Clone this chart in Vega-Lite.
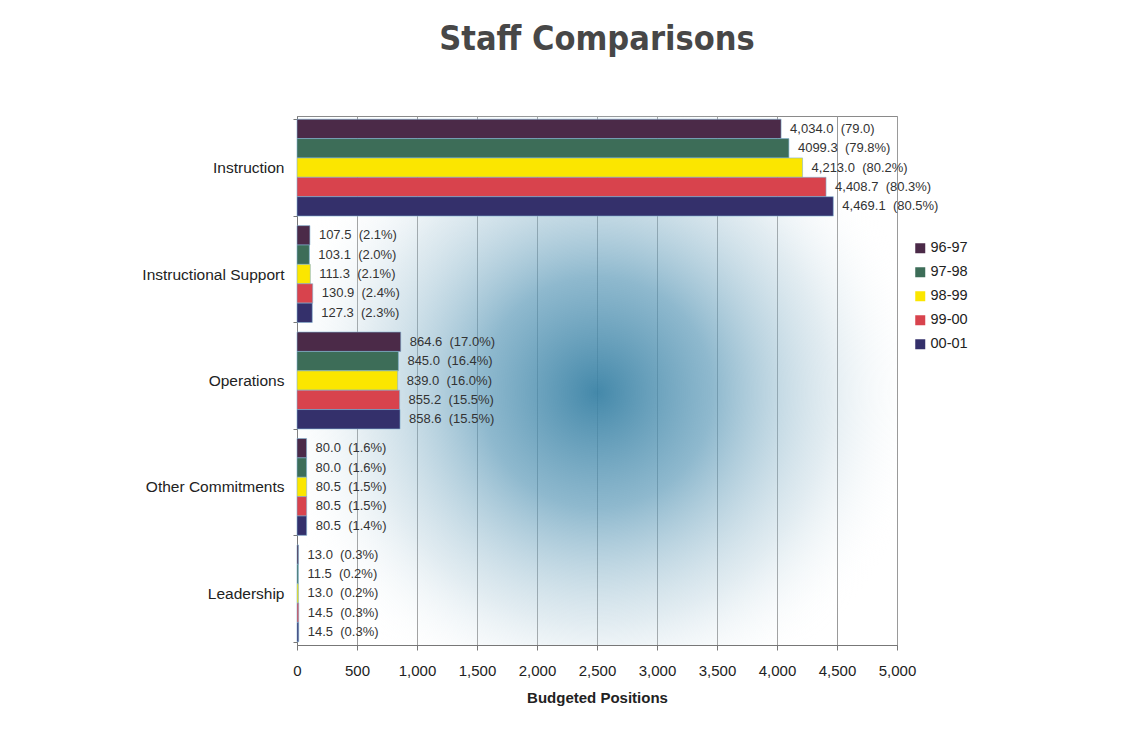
{
  "$schema": "https://vega.github.io/schema/vega-lite/v6.json",
  "width": 600,
  "height": 529,
  "autosize": {"type": "none"},
  "padding": {"left": 297, "top": 116, "right": 231, "bottom": 89},
  "background": "white",
  "title": {
    "text": "Staff Comparisons",
    "anchor": "middle",
    "frame": "group",
    "offset": 52,
    "fontSize": 34,
    "fontWeight": "bold",
    "font": "DejaVu Sans Condensed, Liberation Sans Narrow, Roboto, sans-serif",
    "color": "#474747"
  },
  "config": {
    "view": {"stroke": "#8a8a8a", "strokeWidth": 1},
    "font": "Liberation Sans, Arial, sans-serif"
  },
  "datasets": {
    "bars": [
      {"cat": "Instruction", "year": "96-97", "value": 4034.0, "label": "4,034.0\u00a0 (79.0)"},
      {"cat": "Instruction", "year": "97-98", "value": 4099.3, "label": "4099.3\u00a0 (79.8%)"},
      {"cat": "Instruction", "year": "98-99", "value": 4213.0, "label": "4,213.0\u00a0 (80.2%)"},
      {"cat": "Instruction", "year": "99-00", "value": 4408.7, "label": "4,408.7\u00a0 (80.3%)"},
      {"cat": "Instruction", "year": "00-01", "value": 4469.1, "label": "4,469.1\u00a0 (80.5%)"},
      {"cat": "Instructional Support", "year": "96-97", "value": 107.5, "label": "107.5\u00a0 (2.1%)"},
      {"cat": "Instructional Support", "year": "97-98", "value": 103.1, "label": "103.1\u00a0 (2.0%)"},
      {"cat": "Instructional Support", "year": "98-99", "value": 111.3, "label": "111.3\u00a0 (2.1%)"},
      {"cat": "Instructional Support", "year": "99-00", "value": 130.9, "label": "130.9\u00a0 (2.4%)"},
      {"cat": "Instructional Support", "year": "00-01", "value": 127.3, "label": "127.3\u00a0 (2.3%)"},
      {"cat": "Operations", "year": "96-97", "value": 864.6, "label": "864.6\u00a0 (17.0%)"},
      {"cat": "Operations", "year": "97-98", "value": 845.0, "label": "845.0\u00a0 (16.4%)"},
      {"cat": "Operations", "year": "98-99", "value": 839.0, "label": "839.0\u00a0 (16.0%)"},
      {"cat": "Operations", "year": "99-00", "value": 855.2, "label": "855.2\u00a0 (15.5%)"},
      {"cat": "Operations", "year": "00-01", "value": 858.6, "label": "858.6\u00a0 (15.5%)"},
      {"cat": "Other Commitments", "year": "96-97", "value": 80.0, "label": "80.0\u00a0 (1.6%)"},
      {"cat": "Other Commitments", "year": "97-98", "value": 80.0, "label": "80.0\u00a0 (1.6%)"},
      {"cat": "Other Commitments", "year": "98-99", "value": 80.5, "label": "80.5\u00a0 (1.5%)"},
      {"cat": "Other Commitments", "year": "99-00", "value": 80.5, "label": "80.5\u00a0 (1.5%)"},
      {"cat": "Other Commitments", "year": "00-01", "value": 80.5, "label": "80.5\u00a0 (1.4%)"},
      {"cat": "Leadership", "year": "96-97", "value": 13.0, "label": "13.0\u00a0 (0.3%)"},
      {"cat": "Leadership", "year": "97-98", "value": 11.5, "label": "11.5\u00a0 (0.2%)"},
      {"cat": "Leadership", "year": "98-99", "value": 13.0, "label": "13.0\u00a0 (0.2%)"},
      {"cat": "Leadership", "year": "99-00", "value": 14.5, "label": "14.5\u00a0 (0.3%)"},
      {"cat": "Leadership", "year": "00-01", "value": 14.5, "label": "14.5\u00a0 (0.3%)"}
    ],
    "bg": [{"k": 1}]
  },
  "layer": [
    {
      "data": {"name": "bg"},
      "mark": {
        "type": "rect",
        "color": {
          "gradient": "radial",
          "x1": 0.5, "y1": 0.52, "x2": 0.5, "y2": 0.52, "r1": 0, "r2": 0.55,
          "stops": [
            {"offset": 0, "color": "rgba(58,130,165,0.95)"},
            {"offset": 0.35, "color": "rgba(95,155,185,0.7)"},
            {"offset": 0.7, "color": "rgba(170,200,215,0.35)"},
            {"offset": 1, "color": "rgba(255,255,255,0)"}
          ]
        }
      },
      "encoding": {}
    },
    {
      "data": {"name": "bars"},
      "mark": {"type": "bar", "stroke": "#7fb0d0", "strokeWidth": 0.6},
      "encoding": {
        "y": {
          "field": "cat", "type": "nominal",
          "sort": ["Instruction", "Instructional Support", "Operations", "Other Commitments", "Leadership"],
          "scale": {"paddingInner": 0.09, "paddingOuter": 0.03},
          "axis": {
            "title": null, "labelFontSize": 15.5, "labelColor": "#222", "labelPadding": 9,
            "tickBand": "extent", "tickSize": 4, "tickColor": "#777", "domainColor": "#777"
          }
        },
        "yOffset": {
          "field": "year", "type": "nominal",
          "sort": ["96-97", "97-98", "98-99", "99-00", "00-01"]
        },
        "x": {
          "field": "value", "type": "quantitative",
          "scale": {"domain": [0, 5000], "nice": false},
          "axis": {
            "title": "Budgeted Positions", "titleFontSize": 15, "titleFontWeight": "bold", "titleColor": "#222",
            "titlePadding": 12,
            "values": [0, 500, 1000, 1500, 2000, 2500, 3000, 3500, 4000, 4500, 5000],
            "format": ",d", "labelFontSize": 15, "labelColor": "#222", "labelPadding": 13, "labelFlush": false,
            "tickSize": 5, "tickColor": "#777", "domainColor": "#777",
            "grid": true, "gridColor": "#9a9a9a", "gridWidth": 1
          }
        },
        "color": {
          "field": "year", "type": "nominal",
          "sort": ["96-97", "97-98", "98-99", "99-00", "00-01"],
          "scale": {
            "domain": ["96-97", "97-98", "98-99", "99-00", "00-01"],
            "range": ["#4b2a48", "#3d6d58", "#fbe600", "#d8434d", "#34306b"]
          },
          "legend": {
            "title": null, "orient": "none", "legendX": 616, "legendY": 125,
            "symbolType": "square", "symbolSize": 100, "symbolStrokeWidth": 0,
            "labelFontSize": 14.5, "labelColor": "#222", "rowPadding": 9, "labelOffset": 3
          }
        }
      }
    },
    {
      "data": {"name": "bars"},
      "mark": {"type": "text", "align": "left", "baseline": "middle", "dx": 9, "fontSize": 13, "color": "#333"},
      "encoding": {
        "y": {"field": "cat", "type": "nominal", "sort": ["Instruction", "Instructional Support", "Operations", "Other Commitments", "Leadership"]},
        "yOffset": {"field": "year", "type": "nominal", "sort": ["96-97", "97-98", "98-99", "99-00", "00-01"]},
        "x": {"field": "value", "type": "quantitative"},
        "text": {"field": "label"}
      }
    }
  ]
}
